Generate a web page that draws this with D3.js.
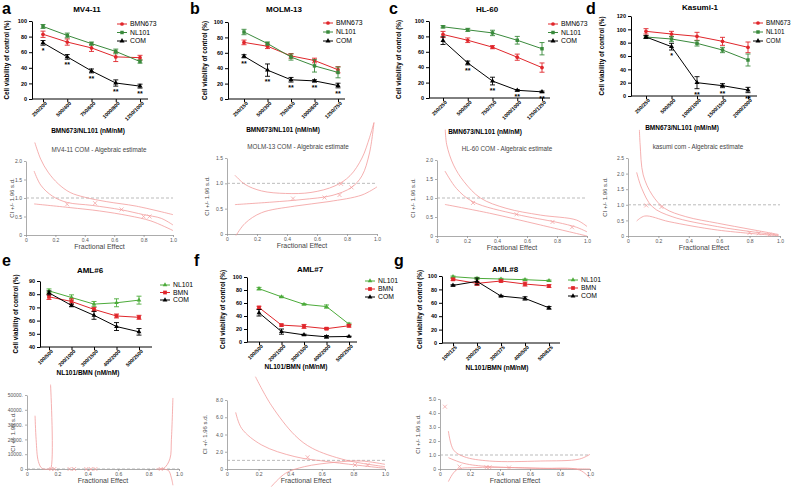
<!DOCTYPE html>
<html>
<head>
<meta charset="utf-8">
<script src="https://cdn.jsdelivr.net/npm/d3@7"></script>
<style>
  body { margin: 0; background: #fff; }
  svg { font-family: "Liberation Sans", Arial, sans-serif; }
</style>
</head>
<body>
<script>
// ---- viability data ----
const mvCats = ["250/200", "500/400", "750/600", "1000/800", "1250/1000"];
const mvBMN = [83, 73, 65.5, 54, 53];
const mvBMNErr = [4, 4, 4.5, 6, 3];
const mvNL = [93, 81.5, 71, 61, 48];
const mvNLErr = [2.5, 3, 2, 3, 2];
const mvCOM = [72, 54, 36, 20.5, 16.5];
const mvCOMErr = [3, 3, 2.5, 4, 2.5];
const mvStars = ["*", "**", "**", "**", "**"];

const molmCats = ["250/150", "500/300", "750/450", "1000/600", "1250/750"];
const molmBMN = [73.5, 68.5, 56, 50, 38];
const molmBMNErr = [3, 3, 3, 3, 4];
const molmNL = [87, 72, 54.5, 43, 34.5];
const molmNLErr = [3.5, 2, 4, 8, 7];
const molmCOM = [55.5, 37.5, 25, 23.5, 17.5];
const molmCOMErr = [2, 8, 3, 1.5, 3];
const molmStars = ["**", "**", "**", "**", "**"];

const hlCats = ["250/250", "500/500", "750/750", "1000/1000", "1250/1250"];
const hlBMN = [82.5, 75, 66, 53, 39.5];
const hlBMNErr = [4, 3, 2, 4, 6];
const hlNL = [92.5, 88.5, 84.5, 75, 64];
const hlNLErr = [1.5, 2, 3.5, 5, 8];
const hlCOM = [74.5, 45.5, 22, 10, 8];
const hlCOMErr = [5, 2.5, 5, 1, 1];
const hlStars = ["", "**", "**", "**", "**"];

const kaCats = ["250/250", "500/500", "1000/1000", "1500/1500", "2000/2000"];
const kaBMN = [97, 93, 89.5, 82, 73];
const kaBMNErr = [4, 4, 6, 6, 8];
const kaNL = [88.5, 85.5, 79, 69, 54];
const kaNLErr = [2, 4, 4, 4, 9];
const kaCOM = [88.5, 74, 20, 15.5, 9];
const kaCOMErr = [2, 5, 9, 3, 4];
const kaStars = ["", "*", "**", "**", "**"];

const amlCats = ["100/500", "200/1000", "300/1500", "400/2000", "500/2500"];
const aml6NL = [82.5, 77.5, 72.5, 73.5, 75.5];
const aml6NLErr = [1.5, 2, 2, 3, 3];
const aml6BMN = [78, 74.5, 68.5, 63.5, 62.5];
const aml6BMNErr = [2, 2, 1.5, 1.5, 1.5];
const aml6COM = [81, 71.5, 64, 55.5, 51.5];
const aml6COMErr = [1.5, 1, 3, 3, 2.5];

const aml7NL = [82, 69.5, 58, 54.5, 27.5];
const aml7NLErr = [2, 1, 1, 2.5, 1.5];
const aml7BMN = [53, 26, 24, 20.5, 25];
const aml7BMNErr = [2, 1.5, 3, 1.5, 2];
const aml7COM = [45, 16, 11, 8, 8.5];
const aml7COMErr = [5, 4, 1, 2, 0.5];

const aml8Cats = ["100/125", "200/250", "300/375", "400/500", "500/625"];
const aml8NL = [99, 96.5, 95.5, 94.5, 93];
const aml8NLErr = [1, 1.5, 1, 1, 1];
const aml8BMN = [95, 89, 92.5, 88, 85];
const aml8BMNErr = [1.5, 3, 1.5, 3, 2];
const aml8COM = [86, 92, 70, 66.5, 52.5];
const aml8COMErr = [1, 5, 1, 2.5, 2];

// ---- CI (fractional effect, CI) curves ----
const ciMvUpper = [[0.06, 2.5], [0.1, 2.05], [0.15, 1.7], [0.22, 1.38], [0.3, 1.15], [0.4, 1.02], [0.55, 0.9], [0.75, 0.78], [1.0, 0.55]];
const ciMvMid = [[0.055, 1.73], [0.1, 1.35], [0.18, 1.05], [0.28, 0.88], [0.45, 0.8], [0.65, 0.68], [0.8, 0.55], [0.92, 0.45], [1.0, 0.27]];
const ciMvLower = [[0.055, 0.84], [0.3, 0.74], [0.5, 0.65], [0.7, 0.52], [0.85, 0.38], [1.0, 0.12]];
const ciMvPts = [[0.28, 0.83], [0.47, 0.86], [0.65, 0.69], [0.8, 0.5], [0.84, 0.5]];

const ciMolmUpper = [[0.053, 1.16], [0.12, 0.98], [0.23, 0.85], [0.39, 0.8], [0.56, 0.82], [0.72, 0.95], [0.82, 1.15], [0.9, 1.5], [0.95, 1.9], [0.98, 2.2]];
const ciMolmMid = [[0.053, 0.58], [0.3, 0.63], [0.5, 0.68], [0.7, 0.76], [0.83, 0.92], [0.9, 1.15], [0.95, 1.6], [0.98, 2.2]];
const ciMolmLower = [[0.06, -0.03], [0.12, 0.21], [0.23, 0.42], [0.45, 0.55], [0.68, 0.64], [0.9, 0.77], [1.0, 0.93]];
const ciMolmPts = [[0.44, 0.7], [0.65, 0.72], [0.75, 0.77], [0.76, 0.99], [0.83, 0.92]];

const ciHlUpper = [[0.055, 2.8], [0.065, 2.4], [0.11, 1.87], [0.18, 1.43], [0.29, 1.0], [0.46, 0.73], [0.69, 0.55], [0.93, 0.42], [1.0, 0.25]];
const ciHlMid = [[0.053, 1.71], [0.13, 1.25], [0.24, 0.9], [0.53, 0.57], [0.8, 0.36], [0.93, 0.23], [1.0, 0.11]];
const ciHlLower = [[0.053, 0.83], [0.35, 0.6], [0.69, 0.29], [1.0, 0.0]];
const ciHlPts = [[0.24, 0.87], [0.53, 0.57], [0.77, 0.37], [0.9, 0.23]];

const ciKaUpper = [[0.075, 3.4], [0.08, 2.92], [0.1, 1.96], [0.16, 1.31], [0.24, 0.89], [0.38, 0.62], [0.59, 0.41], [0.81, 0.21], [0.99, 0.05]];
const ciKaMid = [[0.057, 2.04], [0.09, 1.53], [0.16, 0.94], [0.29, 0.62], [0.59, 0.3], [0.81, 0.14], [0.99, 0.03]];
const ciKaLower = [[0.057, 0.48], [0.11, 0.64], [0.27, 0.46], [0.59, 0.19], [0.99, 0.01]];
const ciKaPts = [[0.12, 0.98], [0.22, 0.93], [0.8, 0.1], [0.86, 0.09], [0.93, 0.04]];

const ci6Left = [[0.053, 36000], [0.06, 20000], [0.075, 5000], [0.1, 300], [0.15, 0]];
const ci6Spike = [[0.14, 0], [0.155, 0], [0.155, 57000]];
const ci6RightUp = [[0.85, 0], [0.9, 500], [0.94, 6800], [0.95, 20000], [0.96, 48000]];
const ci6RightDown = [[0.88, 0], [0.93, -1000], [0.95, -6000], [0.96, -11000]];
const ci6Pts = [[0.16, 0], [0.18, 0], [0.28, 0], [0.31, 0], [0.39, 0], [0.42, 0], [0.45, 0], [0.88, 0]];

const ci7Upper = [[0.18, 10.7], [0.28, 7.4], [0.43, 3.9], [0.54, 2.4], [0.75, 1.04], [1.0, 0.27]];
const ci7Mid = [[0.055, 6.57], [0.093, 4.7], [0.22, 2.78], [0.43, 1.43], [0.64, 0.85], [1.0, 0.08]];
const ci7Lower = [[0.28, -2.05], [0.37, -0.5], [0.49, 0.27], [0.68, 0.77], [0.85, 0.93], [1.0, 0.54]];
const ci7Pts = [[0.51, 1.36], [0.81, 0.46], [0.89, 0.46]];

const ci8Upper = [[0.056, 2.71], [0.09, 1.36], [0.16, 0.88], [0.33, 0.57], [0.67, 0.57], [0.93, 0.71], [1.0, 1.05]];
const ci8Mid = [[0.056, 0.81], [0.16, 0.4], [0.33, 0.17], [1.0, 0.0]];
const ci8Lower = [[0.056, -0.9], [0.11, -0.07], [0.24, 0.1], [0.67, 0.05], [0.93, -0.07], [1.0, -0.66]];
const ci8Pts = [[0.033, 4.45], [0.13, 0.17], [0.31, 0.12], [0.33, 0.12], [0.46, 0.1]];

var RED = "#e0262b",
    GREEN = "#3a8a3c",
    LGREEN = "#4cab3a",
    PINK = "#f29c9c";

var svg = d3.select("body").append("svg")
    .attr("width", 794)
    .attr("height", 488);

function topSeries(bmn, bmnE, nl, nlE, com, comE) {
  return [
    {name: "BMN673", vals: bmn, err: bmnE, color: RED, shape: d3.symbolCircle, size: 11},
    {name: "NL101", vals: nl, err: nlE, color: GREEN, shape: d3.symbolSquare, size: 12},
    {name: "COM", vals: com, err: comE, color: "#000", shape: d3.symbolTriangle, size: 11}
  ];
}
function amlSeries(nl, nlE, bmn, bmnE, com, comE) {
  return [
    {name: "NL101", vals: nl, err: nlE, color: LGREEN, shape: d3.symbolTriangle, size: 9},
    {name: "BMN", vals: bmn, err: bmnE, color: RED, shape: d3.symbolSquare, size: 14},
    {name: "COM", vals: com, err: comE, color: "#000", shape: d3.symbolTriangle, size: 10}
  ];
}

var linePanels = [
  {letter: "a", lx: 2, title: "MV4-11", tx: 87, ty: 12, cats: mvCats, ax: 32, xEnd: 148, xr: [43, 140], yr: [99, 21], dom: [0, 100], step: 20,
   xlab: "BMN673/NL101 (nM/nM)", xlx: 88, xly: 133, ylx: 7, leg: [117, 24, 8.5], stars: mvStars,
   series: topSeries(mvBMN, mvBMNErr, mvNL, mvNLErr, mvCOM, mvCOMErr)},
  {letter: "b", lx: 190, title: "MOLM-13", tx: 284, ty: 12, cats: molmCats, ax: 228, xEnd: 345, xr: [244, 338], yr: [99, 22], dom: [0, 100], step: 20,
   xlab: "BMN673/NL101 (nM/nM)", xlx: 283, xly: 132, ylx: 205, leg: [323, 23, 9], stars: molmStars,
   series: topSeries(molmBMN, molmBMNErr, molmNL, molmNLErr, molmCOM, molmCOMErr)},
  {letter: "c", lx: 389, title: "HL-60", tx: 487, ty: 12, cats: hlCats, ax: 429, xEnd: 550, xr: [443, 542], yr: [98, 21], dom: [0, 100], step: 20,
   xlab: "BMN673/NL101 (nM/nM)", xlx: 485, xly: 134, ylx: 399, leg: [548, 24, 8.5], stars: hlStars,
   series: topSeries(hlBMN, hlBMNErr, hlNL, hlNLErr, hlCOM, hlCOMErr)},
  {letter: "d", lx: 586, title: "Kasumi-1", tx: 700, ty: 10, cats: kaCats, ax: 631, xEnd: 757, xr: [646, 748], yr: [96, 16], dom: [0, 120], step: 20,
   xlab: "BMN673/NL101 (nM/nM)", xlx: 682, xly: 130, ylx: 602, leg: [753, 23, 9], legFont: 6.3, stars: kaStars,
   series: topSeries(kaBMN, kaBMNErr, kaNL, kaNLErr, kaCOM, kaCOMErr)},
  {letter: "e", lx: 2, ly: 266, title: "AML#6", tx: 90, ty: 273, cats: amlCats, ax: 40, xEnd: 152, xr: [49, 139], yr: [347, 281], dom: [40, 90], step: 10,
   xlab: "NL101/BMN (nM/nM)", xlx: 88, xly: 375, ylx: 16, leg: [160, 285, 7.5],
   series: amlSeries(aml6NL, aml6NLErr, aml6BMN, aml6BMNErr, aml6COM, aml6COMErr)},
  {letter: "f", lx: 194, ly: 266, title: "AML#7", tx: 310, ty: 272, cats: amlCats, ax: 247, xEnd: 357, xr: [259, 349], yr: [342, 277], dom: [0, 100], step: 20,
   xlab: "NL101/BMN (nM/nM)", xlx: 296, xly: 369, ylx: 223, leg: [365, 281, 8],
   series: amlSeries(aml7NL, aml7NLErr, aml7BMN, aml7BMNErr, aml7COM, aml7COMErr)},
  {letter: "g", lx: 394, ly: 266, title: "AML#8", tx: 505, ty: 272, cats: aml8Cats, ax: 442, xEnd: 560, xr: [453, 549], yr: [343, 276], dom: [0, 100], step: 20,
   xlab: "NL101/BMN (nM/nM)", xlx: 497, xly: 370, ylx: 420, leg: [568, 280, 8],
   series: amlSeries(aml8NL, aml8NLErr, aml8BMN, aml8BMNErr, aml8COM, aml8COMErr)}
];

function ciFmt(d) { return d === 0 ? "0" : d.toFixed(1); }

var ciPanels = [
  {title: "MV4-11 COM - Algebraic estimate", tx: 99, x0: 26, x1: 173, y0: 235, yTop: 161, yMax: 2, yTicks: [0, 0.5, 1, 1.5, 2], ylx: 12,
   curves: [ciMvUpper, ciMvMid, ciMvLower], pts: ciMvPts},
  {title: "MOLM-13 COM - Algebraic estimate", tx: 298, x0: 227, x1: 377, y0: 234, yTop: 158, yMax: 1.5, yTicks: [0, 0.5, 1, 1.5], ylx: 207,
   curves: [ciMolmUpper, ciMolmMid, ciMolmLower], pts: ciMolmPts},
  {title: "HL-60 COM - Algebraic estimate", tx: 507, x0: 437, x1: 587, y0: 236, yTop: 160, yMax: 2, yTicks: [0, 0.5, 1, 1.5, 2], ylx: 413,
   curves: [ciHlUpper, ciHlMid, ciHlLower], pts: ciHlPts},
  {title: "kasumi com - Algebraic estimate", tx: 698, x0: 628, x1: 780, y0: 236, yTop: 158, yMax: 2.5, yTicks: [0, 0.5, 1, 1.5, 2, 2.5], ylx: 605,
   curves: [ciKaUpper, ciKaMid, ciKaLower], pts: ciKaPts},
  {x0: 27, x1: 179, y0: 469, yTop: 395, yMax: 50000, yTicks: [0, 10000, 20000, 30000, 40000, 50000], ylx: 13,
   fmt: function(d) { return d === 0 ? "0" : d + "."; },
   curves: [ci6Left, ci6Spike, ci6RightUp, ci6RightDown], pts: ci6Pts},
  {x0: 227, x1: 385, y0: 469, yTop: 400, yMax: 8, yTicks: [0, 2, 4, 6, 8], ylx: 205,
   curves: [ci7Upper, ci7Mid, ci7Lower], pts: ci7Pts},
  {x0: 440, x1: 590, y0: 469, yTop: 399, yMax: 5, yTicks: [0, 1, 2, 3, 4, 5], ylx: 418,
   curves: [ci8Upper, ci8Mid, ci8Lower], pts: ci8Pts}
];

function drawLinePanel(p) {
  var g = svg.append("g");
  var x = d3.scalePoint().domain(p.cats).range(p.xr);
  var y = d3.scaleLinear().domain(p.dom).range(p.yr);

  g.append("text").attr("x", p.lx).attr("y", p.ly || 14)
    .attr("font-size", 16).attr("font-weight", "bold").text(p.letter);
  g.append("text").attr("x", p.tx).attr("y", p.ty).attr("text-anchor", "middle")
    .attr("font-size", 8).attr("font-weight", "bold").text(p.title);

  var ya = g.append("g").attr("transform", "translate(" + p.ax + ",0)")
    .call(d3.axisLeft(y).tickValues(d3.range(p.dom[0], p.dom[1] + 0.01, p.step)).tickSize(3).tickSizeOuter(0).tickPadding(2));
  ya.selectAll("text").attr("font-size", 5.5).attr("font-weight", "bold");

  var xa = g.append("g").attr("transform", "translate(0," + p.yr[0] + ")")
    .call(d3.axisBottom(x).tickSize(3).tickSizeOuter(0));
  xa.select(".domain").remove();
  xa.append("line").attr("x1", p.ax).attr("x2", p.xEnd).attr("stroke", "#000");
  xa.selectAll(".tick text")
    .attr("x", 0).attr("y", 0).attr("dy", "0.35em")
    .attr("transform", "translate(2.5,3.5) rotate(-45)")
    .attr("text-anchor", "end")
    .attr("font-size", 5.2).attr("font-weight", "bold");

  g.append("text").attr("x", p.xlx).attr("y", p.xly).attr("text-anchor", "middle")
    .attr("font-size", 6.5).attr("font-weight", "bold").text(p.xlab);
  g.append("text")
    .attr("transform", "translate(" + p.ylx + "," + (p.yr[0] + p.yr[1]) / 2 + ") rotate(-90)")
    .attr("text-anchor", "middle").attr("dy", "0.35em")
    .attr("font-size", 6.3).attr("font-weight", "bold")
    .text("Cell viability of control (%)");

  var line = d3.line().x(function(d, i) { return x(p.cats[i]); }).y(function(d) { return y(d); });

  p.series.forEach(function(s) {
    g.append("path").datum(s.vals).attr("d", line)
      .attr("fill", "none").attr("stroke", s.color).attr("stroke-width", 1);
    var eb = g.append("g").attr("stroke", s.color).attr("stroke-width", 0.9);
    s.vals.forEach(function(v, i) {
      var cx = x(p.cats[i]), hi = y(v + s.err[i]), lo = y(v - s.err[i]);
      eb.append("line").attr("x1", cx).attr("x2", cx).attr("y1", hi).attr("y2", lo);
      eb.append("line").attr("x1", cx - 2.5).attr("x2", cx + 2.5).attr("y1", hi).attr("y2", hi);
      eb.append("line").attr("x1", cx - 2.5).attr("x2", cx + 2.5).attr("y1", lo).attr("y2", lo);
    });
    g.append("g").selectAll("path").data(s.vals).join("path")
      .attr("d", d3.symbol(s.shape, s.size))
      .attr("transform", function(d, i) { return "translate(" + x(p.cats[i]) + "," + y(d) + ")"; })
      .attr("fill", s.color);
  });

  if (p.stars) {
    var com = p.series[2];
    g.append("g").selectAll("text").data(p.stars).join("text")
      .attr("x", function(d, i) { return x(p.cats[i]); })
      .attr("y", function(d, i) { return y(com.vals[i] - com.err[i]) + 8; })
      .attr("text-anchor", "middle").attr("font-size", 7).attr("font-weight", "bold")
      .text(function(d) { return d; });
  }

  // legend
  var lg = g.append("g");
  p.series.forEach(function(s, i) {
    var ly = p.leg[1] + i * p.leg[2];
    lg.append("line").attr("x1", p.leg[0]).attr("x2", p.leg[0] + 10).attr("y1", ly).attr("y2", ly)
      .attr("stroke", s.color).attr("stroke-width", 1);
    lg.append("path").attr("d", d3.symbol(s.shape, s.size))
      .attr("transform", "translate(" + (p.leg[0] + 5) + "," + ly + ")").attr("fill", s.color);
    lg.append("text").attr("x", p.leg[0] + 13).attr("y", ly).attr("dy", "0.35em")
      .attr("font-size", p.legFont || 6.8).text(s.name);
  });
}

function drawCIPanel(p) {
  var g = svg.append("g");
  var x = d3.scaleLinear().domain([0, 1]).range([p.x0, p.x1]);
  var y = d3.scaleLinear().domain([0, p.yMax]).range([p.y0, p.yTop]);
  var fmt = p.fmt || ciFmt;

  var ya = g.append("g").attr("transform", "translate(" + p.x0 + ",0)")
    .call(d3.axisLeft(y).tickValues(p.yTicks).tickFormat(fmt).tickSize(2).tickSizeOuter(0).tickPadding(2));
  var xa = g.append("g").attr("transform", "translate(0," + p.y0 + ")")
    .call(d3.axisBottom(x).tickValues([0, 0.2, 0.4, 0.6, 0.8, 1]).tickFormat(ciFmt).tickSize(2).tickSizeOuter(0).tickPadding(1));
  [ya, xa].forEach(function(a) {
    a.selectAll("path, line").attr("stroke", "#888").attr("stroke-width", 0.7);
    a.selectAll("text").attr("font-size", 5).attr("fill", "#555");
  });

  g.append("line").attr("x1", x(0)).attr("x2", x(1)).attr("y1", y(1)).attr("y2", y(1))
    .attr("stroke", "#aaa").attr("stroke-width", 0.8).attr("stroke-dasharray", "3,2");

  var line = d3.line().x(function(d) { return x(d[0]); }).y(function(d) { return y(d[1]); })
    .curve(d3.curveCatmullRom.alpha(0.5));
  g.append("g").selectAll("path").data(p.curves).join("path")
    .attr("d", line).attr("fill", "none").attr("stroke", PINK).attr("stroke-width", 0.8);

  g.append("g").selectAll("path").data(p.pts).join("path")
    .attr("d", "M-2,-2L2,2M-2,2L2,-2")
    .attr("transform", function(d) { return "translate(" + x(d[0]) + "," + y(d[1]) + ")"; })
    .attr("stroke", PINK).attr("stroke-width", 0.7);

  if (p.title) {
    g.append("text").attr("x", p.tx).attr("y", p.yTop - 9).attr("text-anchor", "middle")
      .attr("font-size", 6.3).attr("fill", "#444").text(p.title);
  }
  g.append("text").attr("x", (p.x0 + p.x1) / 2).attr("y", p.y0 + 13.5).attr("text-anchor", "middle")
    .attr("font-size", 7).attr("fill", "#444").text("Fractional Effect");
  g.append("text")
    .attr("transform", "translate(" + p.ylx + "," + (p.y0 + p.yTop) / 2 + ") rotate(-90)")
    .attr("text-anchor", "middle").attr("dy", "0.35em")
    .attr("font-size", 6).attr("fill", "#444").text("CI +/- 1.96 s.d.");
}

linePanels.forEach(drawLinePanel);
ciPanels.forEach(drawCIPanel);
</script>
</body>
</html>
